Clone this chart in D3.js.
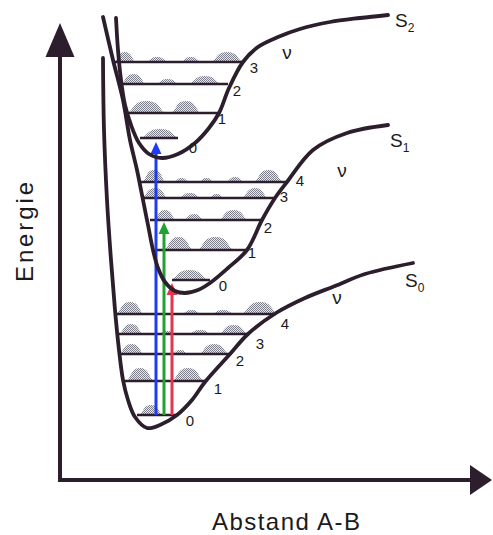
<!DOCTYPE html>
<html>
<head>
<meta charset="utf-8">
<script src="https://cdn.jsdelivr.net/npm/d3@7"></script>
<style>
  body { margin: 0; background: #fff; }
  svg { display: block; }
  text { font-family: "Liberation Sans", Arial, sans-serif; fill: #1c1a1c; }
</style>
</head>
<body>
<script>

// potential curves, points as [distance, energy] in arbitrary units
const curveS0 = [[4.3,42.2],[4.4,35.0],[4.7,28.0],[5.1,22.0],[5.5,17.0],[5.9,13.0],[6.3,10.0],[6.8,8.0],[7.5,6.3],[8.7,5.2],[10.0,5.5],[11.7,6.5],[13.2,8.0],[14.5,9.8],[17.0,12.6],[18.8,14.6],[21.6,16.7],[24.5,18.2],[27.5,19.4],[30.5,20.6],[35.3,21.7]];
const curveS1 = [[4.3,46.3],[5.3,42.0],[6.3,38.0],[7.0,34.0],[7.7,31.0],[8.3,28.0],[8.8,25.5],[9.3,23.0],[9.8,21.2],[10.5,19.8],[11.5,18.9],[12.5,18.7],[13.8,19.0],[15.0,19.7],[16.8,21.2],[18.7,23.0],[20.2,26.0],[21.5,28.2],[22.7,29.8],[25.3,33.0],[28.7,34.7],[32.8,35.5]];
const curveS2 = [[5.6,46.2],[5.8,43.0],[6.1,40.0],[6.5,37.5],[7.1,35.5],[7.9,33.7],[8.9,32.6],[10.2,32.2],[11.8,32.6],[13.5,33.7],[14.9,35.2],[15.9,36.7],[16.9,39.2],[18.3,41.8],[19.8,43.3],[21.8,44.3],[24.0,45.1],[27.0,45.8],[30.0,46.2],[32.8,46.5]];

const stateNames = ["S0", "S1", "S2"];
const stateLabelPos = [[34.5,19.3],[33.0,33.3],[33.5,45.3]];
const nuPos = [[27.7,18.3],[28.2,31.0],[22.7,42.8]];

// vibrational levels: [state, v, xStart, xEnd, energy]
const levels = [
  [0,0,7.7,11.7,6.5],[0,1,6.4,14.5,9.9],[0,2,6.0,17.0,12.6],[0,3,5.8,18.8,14.6],[0,4,5.6,21.6,16.6],
  [1,0,11.2,15.0,20.0],[1,1,9.6,18.7,23.0],[1,2,9.0,20.1,26.0],[1,3,8.3,21.5,28.2],[1,4,8.1,22.6,29.8],
  [2,0,8.0,11.8,34.2],[2,1,6.6,15.9,36.7],[2,2,6.0,16.8,39.6],[2,3,5.5,18.3,41.8]
];

// probability humps on each level (same order as levels): [xStart, xEnd, height]
const humps = [
  [[8.0,10.2,1.0]],
  [[6.7,9.3,1.3],[11.3,14.3,1.3]],
  [[6.0,8.3,1.0],[11.3,12.7,0.4],[14.0,16.8,1.0]],
  [[6.0,8.2,1.0],[10.0,11.5,0.3],[13.0,15.0,0.4],[16.0,18.7,0.9]],
  [[5.7,8.3,1.2],[12.3,14.0,0.4],[15.3,17.3,0.4],[18.3,21.7,1.2]],
  [[11.2,14.7,1.0]],
  [[10.5,13.2,1.3],[13.8,17.3,1.3]],
  [[9.5,11.5,1.0],[12.5,14.3,0.6],[16.0,18.7,1.0]],
  [[8.3,10.7,1.0],[12.0,14.0,0.5],[15.0,16.3,0.4],[18.3,20.7,1.0]],
  [[8.3,10.5,1.2],[11.5,12.8,0.4],[14.0,15.3,0.4],[16.7,18.3,0.5],[19.5,22.2,1.2]],
  [[8.2,11.8,0.9]],
  [[6.8,10.5,1.2],[11.2,14.0,1.2]],
  [[6.2,8.5,1.0],[9.7,11.8,0.5],[13.0,16.0,0.8]],
  [[5.5,7.5,1.0],[8.7,10.7,0.5],[12.2,14.0,0.5],[15.2,18.2,1.0]]
];

// level number labels: [text, x, y]
const levelLabels = [
  ["0",13.0,6.0],["1",15.8,9.2],["2",18.0,12.0],["3",20.0,13.7],["4",22.5,15.7],
  ["0",16.3,19.5],["1",19.2,22.8],["2",20.8,25.3],["3",22.4,28.4],["4",24.0,30.0],
  ["0",13.3,33.3],["1",16.2,36.2],["2",17.7,39.0],["3",19.4,41.3]
];

// transitions: [colour, x, fromEnergy, toEnergy]
const transitions = [
  ["#1f3cf0", 9.6, 6.5, 33.8],
  ["#22a032", 10.4, 6.5, 25.8],
  ["#e8334e", 11.2, 6.5, 19.7]
];

const axisTitles = ["Energie", "Abstand A-B"];

const width = 493, height = 535;
const ink = "#2c1e2c";

let x = d3.scaleLinear().domain([0, 43]).range([60, 490]);
let y = d3.scaleLinear().domain([0, 46.3]).range([480, 17]);

let svg = d3.select("body").append("svg")
    .attr("width", width)
    .attr("height", height);

let defs = svg.append("defs");
let pat = defs.append("pattern")
    .attr("id", "dots")
    .attr("patternUnits", "userSpaceOnUse")
    .attr("width", 2)
    .attr("height", 2);
pat.append("rect").attr("width", 2).attr("height", 2).attr("fill", "#e8eaf0");
pat.append("rect").attr("width", 1).attr("height", 1).attr("fill", "#7c7e8a");
pat.append("rect").attr("x", 1).attr("y", 1).attr("width", 1).attr("height", 1).attr("fill", "#7c7e8a");

// axes
let axes = svg.append("g").attr("class", "axes");
axes.append("line")
    .attr("x1", x(0)).attr("y1", y(0))
    .attr("x2", x(0)).attr("y2", y(42.3))
    .attr("stroke", ink).attr("stroke-width", 4);
axes.append("line")
    .attr("x1", x(0) - 2).attr("y1", y(0))
    .attr("x2", x(41)).attr("y2", y(0))
    .attr("stroke", ink).attr("stroke-width", 4);
axes.append("path")
    .attr("d", `M${x(0)},${y(45.7)} L${x(0) + 14.5},${y(42.3)} L${x(0) - 14.5},${y(42.3)} Z`)
    .attr("fill", ink);
axes.append("path")
    .attr("d", `M${x(43.2)},${y(0)} L${x(41)},${y(0) - 15} L${x(41)},${y(0) + 15} Z`)
    .attr("fill", ink);

axes.append("text")
    .attr("transform", `translate(${x(0) - 27},${y(24.8)}) rotate(-90)`)
    .attr("text-anchor", "middle")
    .attr("font-size", 24)
    .attr("textLength", 100)
    .attr("lengthAdjust", "spacing")
    .text(axisTitles[0]);
axes.append("text")
    .attr("x", x(22.6))
    .attr("y", y(-5.0))
    .attr("text-anchor", "middle")
    .attr("font-size", 24)
    .attr("textLength", 148)
    .attr("lengthAdjust", "spacing")
    .text(axisTitles[1]);

// humps, drawn as soft mounds sitting on their level
let humpPath = (h, e) => {
    let x0 = x(h[0]), x1 = x(h[1]), base = y(e), top = y(e + h[2]);
    let w = x1 - x0, xc = (x0 + x1) / 2, hh = base - top;
    return `M${x0},${base} C${x0 + w * 0.18},${base - hh * 0.45} ${xc - w * 0.32},${top} ${xc},${top} ` +
           `C${xc + w * 0.32},${top} ${x1 - w * 0.18},${base - hh * 0.45} ${x1},${base} Z`;
};

let humpGroup = svg.append("g").attr("class", "humps");
levels.forEach((lv, i) => {
    humpGroup.selectAll(null)
        .data(humps[i])
        .enter()
        .append("path")
        .attr("d", (d) => humpPath(d, lv[4]))
        .attr("fill", "url(#dots)");
});

// levels
svg.append("g").attr("class", "levels")
    .selectAll("line")
    .data(levels)
    .enter()
    .append("line")
    .attr("x1", (d) => x(d[2]))
    .attr("x2", (d) => x(d[3]))
    .attr("y1", (d) => y(d[4]))
    .attr("y2", (d) => y(d[4]))
    .attr("stroke", ink)
    .attr("stroke-width", 2.4);

// transitions
let arrows = svg.append("g").attr("class", "transitions")
    .selectAll("g")
    .data(transitions)
    .enter()
    .append("g");
arrows.append("line")
    .attr("x1", (d) => x(d[1]))
    .attr("x2", (d) => x(d[1]))
    .attr("y1", (d) => y(d[2]))
    .attr("y2", (d) => y(d[3]) + 8)
    .attr("stroke", (d) => d[0])
    .attr("stroke-width", 3);
arrows.append("path")
    .attr("d", (d) => `M${x(d[1])},${y(d[3])} L${x(d[1]) + 5.5},${y(d[3]) + 12} L${x(d[1]) - 5.5},${y(d[3]) + 12} Z`)
    .attr("fill", (d) => d[0]);

// potential curves
let line = d3.line()
    .x((d) => x(d[0]))
    .y((d) => y(d[1]))
    .curve(d3.curveCatmullRom);

svg.append("g").attr("class", "curves")
    .selectAll("path")
    .data([curveS0, curveS1, curveS2])
    .enter()
    .append("path")
    .attr("d", line)
    .attr("fill", "none")
    .attr("stroke", ink)
    .attr("stroke-width", 3.8)
    .attr("stroke-linecap", "round");

// labels
svg.append("g").attr("class", "levelLabels")
    .selectAll("text")
    .data(levelLabels)
    .enter()
    .append("text")
    .attr("x", (d) => x(d[1]))
    .attr("y", (d) => y(d[2]))
    .attr("text-anchor", "middle")
    .attr("dominant-baseline", "central")
    .attr("font-size", 15)
    .text((d) => d[0]);

svg.append("g").attr("class", "nu")
    .selectAll("text")
    .data(nuPos)
    .enter()
    .append("text")
    .attr("x", (d) => x(d[0]))
    .attr("y", (d) => y(d[1]))
    .attr("text-anchor", "middle")
    .attr("dominant-baseline", "central")
    .attr("font-size", 19)
    .text("\u03bd");

let stateLabels = svg.append("g").attr("class", "states")
    .selectAll("text")
    .data(stateNames)
    .enter()
    .append("text")
    .attr("x", (d, i) => x(stateLabelPos[i][0]))
    .attr("y", (d, i) => y(stateLabelPos[i][1]))
    .attr("font-size", 19);
stateLabels.append("tspan").text((d) => d[0]);
stateLabels.append("tspan")
    .attr("font-size", 12)
    .attr("dy", 5)
    .text((d) => d[1]);

</script>
</body>
</html>
